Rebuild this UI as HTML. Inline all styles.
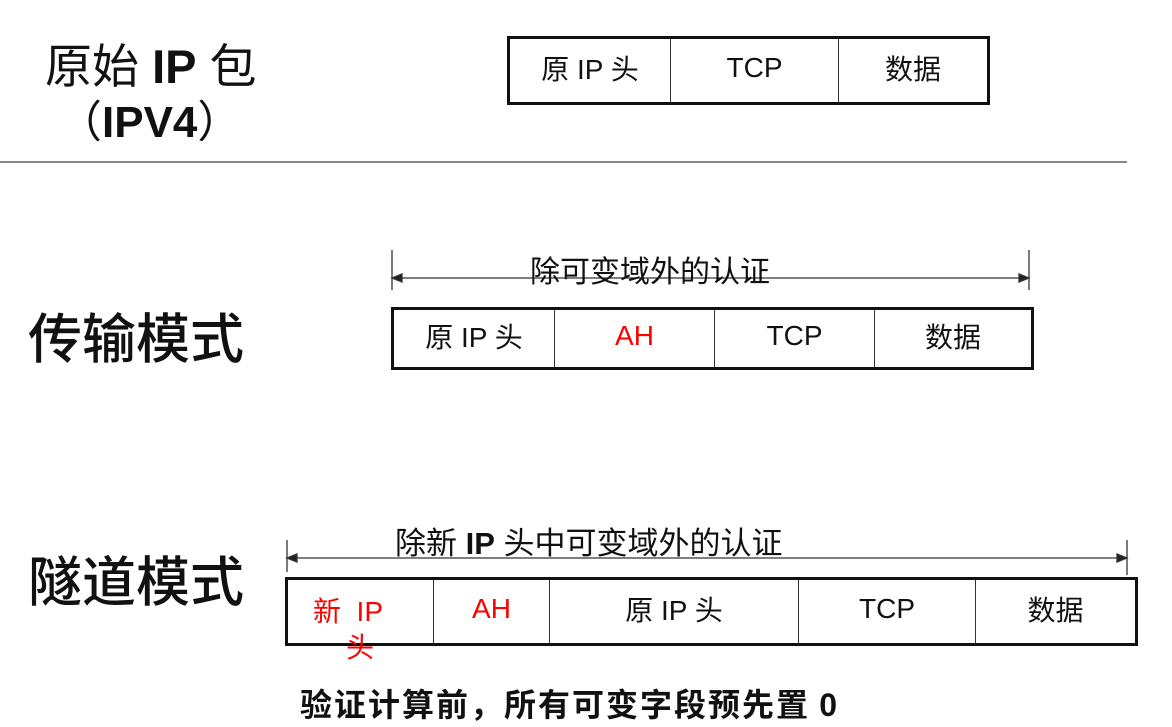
<!DOCTYPE html>
<html><head><meta charset="utf-8"><style>
body{margin:0;width:1172px;height:727px;background:#fff;position:relative;overflow:hidden;font-family:"Liberation Sans","WenQuanYi Zen Hei",sans-serif;color:#111}
.a{position:absolute;white-space:nowrap}
.box{position:absolute;border:3px solid #111;box-sizing:border-box;display:flex}
.box div{border-right:1.5px solid #333;display:flex;align-items:center;justify-content:center;font-size:28px;box-sizing:border-box;height:100%;padding-bottom:6px}
.box div:last-child{border-right:none}
.r{color:#f00}
</style></head><body>
<div class="a" style="left:45px;top:28px;font-size:47px;font-family:'WenQuanYi Zen Hei',sans-serif">原始 <b style="font-family:'Liberation Sans'">IP</b> 包</div>
<div class="a" style="left:58px;top:86px;font-size:44px;font-family:'WenQuanYi Zen Hei',sans-serif">（<b style="font-family:'Liberation Sans'">IPV4</b>）</div>
<div class="box" style="left:507px;top:36px;width:483px;height:69px">
<div style="width:161px">原 IP 头</div><div style="width:168px">TCP</div><div style="flex:1">数据</div></div>
<div class="a" style="left:0;top:161px;width:1127px;height:1.5px;background:#888"></div>

<div class="a" style="left:28px;top:295px;font-size:54px;font-weight:500;font-family:'Noto Sans CJK SC',sans-serif">传输模式</div>
<svg class="a" style="left:0;top:0" width="1172" height="727">
<g stroke="#333" stroke-width="1.3" fill="#222">
<line x1="392" y1="250" x2="392" y2="290"/><line x1="1029" y1="250" x2="1029" y2="290"/>
<line x1="398" y1="278" x2="1023" y2="278"/>
<path d="M392 278 L402 274 L402 282Z"/><path d="M1029 278 L1019 274 L1019 282Z"/>
<line x1="287" y1="540" x2="287" y2="572"/><line x1="1127" y1="540" x2="1127" y2="575"/>
<line x1="293" y1="558" x2="1121" y2="558"/>
<path d="M287 558 L297 554 L297 562Z"/><path d="M1127 558 L1117 554 L1117 562Z"/>
</g></svg>
<div class="a" style="left:530px;top:247px;font-size:30px;font-family:'WenQuanYi Zen Hei',sans-serif">除可变域外的认证</div>
<div class="box" style="left:391px;top:307px;width:643px;height:63px">
<div style="width:161px">原 IP 头</div><div class="r" style="width:160px">AH</div><div style="width:160px">TCP</div><div style="flex:1">数据</div></div>

<div class="a" style="left:28px;top:538px;font-size:54px;font-weight:500;font-family:'Noto Sans CJK SC',sans-serif">隧道模式</div>
<div class="a" style="left:395px;top:518px;font-size:31px;font-family:'WenQuanYi Zen Hei',sans-serif">除新 <b style="font-family:'Liberation Sans'">IP</b> 头中可变域外的认证</div>
<div class="box" style="left:285px;top:577px;width:853px;height:69px">
<div style="width:146px;position:relative"><span class="r" style="position:absolute;left:25px;top:10px">新&nbsp;&nbsp;IP</span><span class="r" style="position:absolute;left:58px;top:46px">头</span></div>
<div class="r" style="width:116px">AH</div><div style="width:249px">原 IP 头</div><div style="width:177px">TCP</div><div style="flex:1">数据</div></div>
<div class="a" style="left:300px;top:680px;font-size:32px;font-weight:bold;letter-spacing:2px;font-family:'Noto Sans CJK SC',sans-serif">验证计算前，所有可变字段预先置 <span style="font-family:'Liberation Sans'">0</span></div>
</body></html>
